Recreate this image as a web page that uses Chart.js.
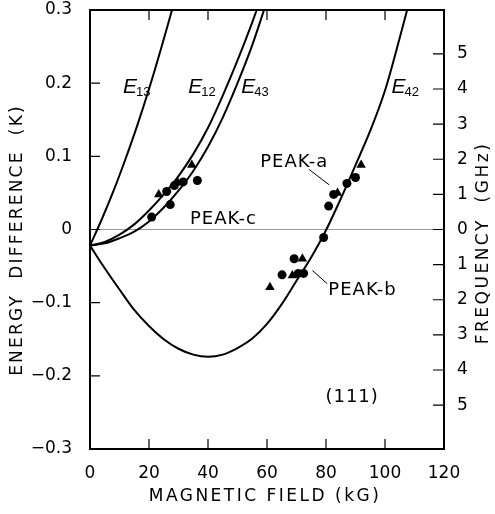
<!DOCTYPE html>
<html>
<head>
<meta charset="utf-8">
<script src="https://cdn.jsdelivr.net/npm/chart.js@4.4.1/dist/chart.umd.min.js"></script>
<style>
  body { margin: 0; background: #fff; }
  #wrap { width: 495px; height: 514px; }
</style>
</head>
<body>
<div id="wrap"><canvas id="chart" width="495" height="514"></canvas></div>
<script>
// curves (kG, K)
const fieldE13 = [0, 4, 8, 12, 16, 20, 24, 27.8];
const energyE13 = [-0.022, 0.014, 0.053, 0.096, 0.142, 0.192, 0.246, 0.3];

const fieldE12 = [0, 5, 10, 15, 20, 25, 30, 35, 40, 45, 50, 55, 56.5];
const energyE12 = [-0.022, -0.017, -0.007, 0.007, 0.026, 0.048, 0.073, 0.103, 0.139, 0.183, 0.231, 0.283, 0.3];

const fieldE43 = [0, 5, 10, 15, 20, 25, 30, 35, 40, 45, 50, 55, 59];
const energyE43 = [-0.022, -0.019, -0.012, -0.003, 0.011, 0.03, 0.053, 0.08, 0.113, 0.153, 0.2, 0.252, 0.3];

const fieldE42 = [0, 5, 10, 15, 20, 25, 30, 35, 40, 45, 50, 55, 60, 65, 70, 75, 80, 85, 90, 95, 100, 105, 107.5];
const energyE42 = [-0.022, -0.053, -0.082, -0.11, -0.132, -0.15, -0.163, -0.171, -0.174, -0.171, -0.162, -0.149, -0.129, -0.102, -0.07, -0.038, -0.001, 0.042, 0.088, 0.135, 0.19, 0.262, 0.3];

// measured peaks
const triangleField = [23.3, 29.8, 34.5, 91.9, 83.9, 72.0, 68.6, 61.0];
const triangleEnergy = [0.048, 0.064, 0.088, 0.088, 0.05, -0.04, -0.063, -0.079];
const circleField = [20.9, 26.0, 27.2, 28.6, 31.6, 36.4, 90, 87.1, 82.6, 80.9, 79.2, 69.2, 65.1, 70.6, 72.4];
const circleEnergy = [0.017, 0.052, 0.034, 0.06, 0.065, 0.067, 0.071, 0.063, 0.048, 0.032, -0.011, -0.04, -0.062, -0.06, -0.06];

const fieldTicks = [0, 20, 40, 60, 80, 100, 120];
const energyTicks = [-0.3, -0.2, -0.1, 0, 0.1, 0.2, 0.3];
const freqTicks = [-5, -4, -3, -2, -1, 0, 1, 2, 3, 4, 5];
const kelvinPerGHz = 0.048;

const FONT = "'DejaVu Sans', sans-serif";

function pairs(xs, ys) {
    return xs.map((x, i) => ({ x: x, y: ys[i] }));
}

function curve(xs, ys) {
    return {
        data: pairs(xs, ys),
        showLine: true,
        borderColor: "#000",
        borderWidth: 2,
        pointRadius: 0,
        cubicInterpolationMode: "monotone",
        fill: false
    };
}

const labels = [
    { sub: "13", x: 11.2, y: 0.186 },
    { sub: "12", x: 33.3, y: 0.186 },
    { sub: "43", x: 51.3, y: 0.187 },
    { sub: "42", x: 102.2, y: 0.187 }
];

const notes = [
    { text: "PEAK-a", x: 57.7, y: 0.085 },
    { text: "PEAK-b", x: 80.8, y: -0.09 },
    { text: "PEAK-c", x: 33.9, y: 0.008 },
    { text: "(111)", x: 79.8, y: -0.236 }
];

const arrows = [
    [74.3, 0.082, 81.1, 0.061],
    [80.4, -0.074, 75.4, -0.056]
];

// drop the overhang padding chart.js keeps for end labels
function noOverhang(s) {
    s.paddingTop = 0;
    s.paddingBottom = 0;
    s.paddingLeft = 0;
    s.paddingRight = 0;
}

const decor = {
    id: "decor",
    beforeDatasetsDraw(chart) {
        const ctx = chart.ctx;
        const a = chart.chartArea;
        const y = chart.scales.y;
        ctx.save();
        ctx.strokeStyle = "#999";
        ctx.lineWidth = 1;
        ctx.beginPath();
        ctx.moveTo(a.left, y.getPixelForValue(0));
        ctx.lineTo(a.right, y.getPixelForValue(0));
        ctx.stroke();
        ctx.restore();
    },
    afterDraw(chart) {
        const ctx = chart.ctx;
        const a = chart.chartArea;
        const x = chart.scales.x, y = chart.scales.y, y2 = chart.scales.y2;
        ctx.save();
        ctx.strokeStyle = "#000";
        ctx.lineWidth = 2;
        ctx.strokeRect(a.left, a.top, a.right - a.left, a.bottom - a.top);

        // inward ticks
        ctx.lineWidth = 1.2;
        ctx.beginPath();
        fieldTicks.slice(1, -1).forEach(v => {
            const px = x.getPixelForValue(v);
            ctx.moveTo(px, a.bottom); ctx.lineTo(px, a.bottom - 10);
            ctx.moveTo(px, a.top); ctx.lineTo(px, a.top + 10);
        });
        energyTicks.slice(1, -1).forEach(v => {
            const py = y.getPixelForValue(v);
            ctx.moveTo(a.left, py); ctx.lineTo(a.left + 10, py);
        });
        freqTicks.forEach(v => {
            const py = y2.getPixelForValue(v);
            ctx.moveTo(a.right, py); ctx.lineTo(a.right - 11, py);
        });
        ctx.stroke();

        // arrows to the peaks
        ctx.lineWidth = 1;
        ctx.beginPath();
        arrows.forEach(p => {
            ctx.moveTo(x.getPixelForValue(p[0]), y.getPixelForValue(p[1]));
            ctx.lineTo(x.getPixelForValue(p[2]), y.getPixelForValue(p[3]));
        });
        ctx.stroke();

        ctx.fillStyle = "#000";
        ctx.textBaseline = "alphabetic";
        ctx.textAlign = "left";
        labels.forEach(l => {
            const px = x.getPixelForValue(l.x), py = y.getPixelForValue(l.y);
            ctx.font = "italic 21px 'Liberation Sans', sans-serif";
            ctx.fillText("E", px, py);
            const w = ctx.measureText("E").width;
            ctx.font = "13px 'Liberation Sans', sans-serif";
            ctx.fillText(l.sub, px + w - 1, py + 3);
        });

        ctx.font = "18px " + FONT;
        ctx.letterSpacing = "1px";
        notes.forEach(n => {
            ctx.fillText(n.text, x.getPixelForValue(n.x), y.getPixelForValue(n.y));
        });

        // axis titles
        ctx.font = "17px " + FONT;
        ctx.letterSpacing = "2.5px";
        ctx.textAlign = "center";
        ctx.textBaseline = "middle";
        ctx.fillText("MAGNETIC FIELD (kG)", 265, 497);

        ctx.letterSpacing = "2.2px";
        ctx.save();
        ctx.translate(18, 240);
        ctx.rotate(-Math.PI / 2);
        ctx.fillText("ENERGY  DIFFERENCE  (K)", 0, 0);
        ctx.restore();

        ctx.letterSpacing = "2.5px";
        ctx.save();
        ctx.translate(484, 243);
        ctx.rotate(-Math.PI / 2);
        ctx.fillText("FREQUENCY  (GHz)", 0, 0);
        ctx.restore();
        ctx.restore();
    }
};

function fmtEnergy(v) {
    const r = Math.round(v * 10) / 10;
    if (r === 0) return "0";
    return (r < 0 ? "\u2212" : "") + Math.abs(r).toFixed(1);
}

new Chart(document.getElementById("chart").getContext("2d"), {
    type: "scatter",
    data: {
        datasets: [
            curve(fieldE13, energyE13),
            curve(fieldE12, energyE12),
            curve(fieldE43, energyE43),
            curve(fieldE42, energyE42),
            {
                data: pairs(circleField, circleEnergy),
                pointStyle: "circle",
                pointRadius: 4.5,
                backgroundColor: "#000",
                borderColor: "#000",
                borderWidth: 0
            },
            {
                data: pairs(triangleField, triangleEnergy),
                pointStyle: "triangle",
                pointRadius: 5.5,
                backgroundColor: "#000",
                borderColor: "#000",
                borderWidth: 0
            }
        ]
    },
    options: {
        responsive: false,
        animation: false,
        layout: { padding: { top: 10, left: 0, right: 0, bottom: 0 } },
        plugins: {
            legend: { display: false },
            tooltip: { enabled: false }
        },
        scales: {
            x: {
                type: "linear",
                min: 0,
                max: 120,
                grid: { display: false },
                border: { display: false },
                afterBuildTicks: s => { s.ticks = fieldTicks.map(v => ({ value: v })); },
                afterFit: s => { s.height = 65; noOverhang(s); },
                ticks: {
                    color: "#000",
                    padding: 6,
                    maxRotation: 0,
                    font: { family: FONT, size: 17 }
                }
            },
            y: {
                min: -0.3,
                max: 0.3,
                grid: { display: false },
                border: { display: false },
                afterBuildTicks: s => { s.ticks = energyTicks.map(v => ({ value: v })); },
                afterFit: s => { s.width = 90; noOverhang(s); },
                ticks: {
                    color: "#000",
                    padding: 10,
                    font: { family: FONT, size: 17 },
                    callback: v => fmtEnergy(v)
                }
            },
            y2: {
                position: "right",
                min: -0.3 / kelvinPerGHz,
                max: 0.3 / kelvinPerGHz,
                grid: { display: false },
                border: { display: false },
                afterBuildTicks: s => { s.ticks = freqTicks.map(v => ({ value: v })); },
                afterFit: s => { s.width = 51; noOverhang(s); },
                ticks: {
                    color: "#000",
                    padding: 5,
                    font: { family: FONT, size: 17 },
                    callback: v => String(Math.abs(v))
                }
            }
        }
    },
    plugins: [decor]
});
</script>
</body>
</html>
